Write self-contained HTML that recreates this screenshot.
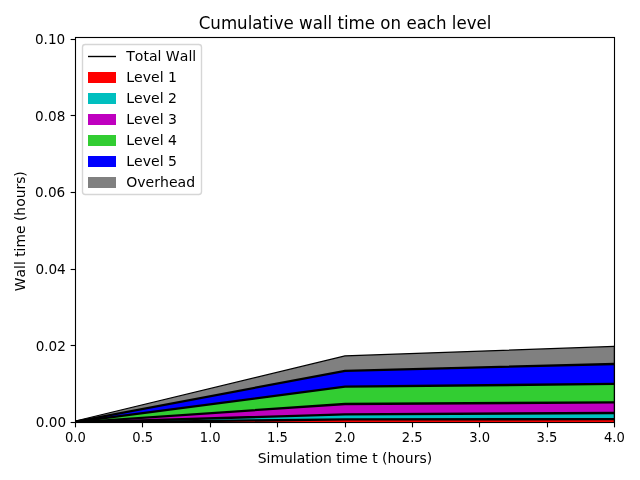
<!DOCTYPE html>
<html lang="en"><head><meta charset="utf-8"><title>Cumulative wall time on each level</title>
<style>html,body{margin:0;padding:0;background:#fff}body{width:640px;height:480px;overflow:hidden}svg{display:block}text{font-family:'DejaVu Sans','Liberation Sans',sans-serif;fill:#000;font-kerning:none}</style></head><body>
<svg width="640" height="480" viewBox="0 0 640 480">
<rect width="640" height="480" fill="#fff"/>
<clipPath id="ax"><rect x="75" y="37" width="540" height="386.05"/></clipPath>
<g clip-path="url(#ax)">
<g stroke="none">
<polygon fill="#ff0000" points="75.50,422.43 345.00,419.20 614.50,418.97 614.50,422.50 345.00,422.50 75.50,422.50"/>
<polygon fill="#00bfbf" points="75.50,422.31 345.00,414.10 614.50,412.80 614.50,418.97 345.00,419.20 75.50,422.43"/>
<polygon fill="#bf00bf" points="75.50,422.08 345.00,403.79 614.50,402.14 614.50,412.80 345.00,414.10 75.50,422.31"/>
<polygon fill="#32cd32" points="75.50,421.69 345.00,386.49 614.50,383.69 614.50,402.14 345.00,403.79 75.50,422.08"/>
<polygon fill="#0000ff" points="75.50,421.33 345.00,370.62 614.50,363.79 614.50,383.69 345.00,386.49 75.50,421.69"/>
<polygon fill="#808080" points="75.50,421.00 345.00,355.89 614.50,346.38 614.50,363.79 345.00,370.62 75.50,421.33"/>
</g>
<g stroke="#000" fill="none" stroke-linejoin="miter">
<polyline stroke-width="2.30" points="75.50,422.63 345.00,419.40 614.50,419.17"/>
<polyline stroke-width="2.30" points="75.50,422.51 345.00,414.30 614.50,413.00"/>
<polyline stroke-width="2.30" points="75.50,422.28 345.00,403.99 614.50,402.34"/>
<polyline stroke-width="2.30" points="75.50,421.89 345.00,386.69 614.50,383.89"/>
<polyline stroke-width="2.30" points="75.50,421.53 345.00,370.82 614.50,363.99"/>
<polyline stroke-width="1.25" points="75.50,421.00 345.00,355.89 614.50,346.38"/>
<line stroke-width="0.9" x1="614.25" y1="345.78" x2="614.25" y2="422.50"/>
<line stroke-width="1.11" x1="75.50" y1="422.50" x2="614.50" y2="422.50"/>
<rect x="74.9" y="420.0" width="1.4" height="3" fill="#000" stroke="none"/>
</g>
</g>
<g stroke="#000" stroke-width="1.11" fill="none">
<line x1="75.50" y1="422.50" x2="75.50" y2="427.36"/>
<line x1="142.50" y1="422.50" x2="142.50" y2="427.36"/>
<line x1="210.50" y1="422.50" x2="210.50" y2="427.36"/>
<line x1="277.50" y1="422.50" x2="277.50" y2="427.36"/>
<line x1="345.50" y1="422.50" x2="345.50" y2="427.36"/>
<line x1="412.50" y1="422.50" x2="412.50" y2="427.36"/>
<line x1="479.50" y1="422.50" x2="479.50" y2="427.36"/>
<line x1="547.50" y1="422.50" x2="547.50" y2="427.36"/>
<line x1="614.50" y1="422.50" x2="614.50" y2="427.36"/>
<line x1="70.64" y1="422.50" x2="75.50" y2="422.50"/>
<line x1="70.64" y1="345.50" x2="75.50" y2="345.50"/>
<line x1="70.64" y1="269.50" x2="75.50" y2="269.50"/>
<line x1="70.64" y1="192.50" x2="75.50" y2="192.50"/>
<line x1="70.64" y1="115.50" x2="75.50" y2="115.50"/>
<line x1="70.64" y1="39.50" x2="75.50" y2="39.50"/>
<rect x="75.50" y="37.50" width="539.00" height="385.00"/>
</g>
<g font-size="13.89px" text-anchor="middle">
<text transform="translate(75.40 442.00) scale(0.9450 1.0000)">0.0</text>
<text transform="translate(142.78 442.00) scale(0.9450 1.0000)">0.5</text>
<text transform="translate(210.15 442.00) scale(0.9450 1.0000)">1.0</text>
<text transform="translate(277.52 442.00) scale(0.9450 1.0000)">1.5</text>
<text transform="translate(344.90 442.00) scale(0.9450 1.0000)">2.0</text>
<text transform="translate(412.27 442.00) scale(0.9450 1.0000)">2.5</text>
<text transform="translate(479.65 442.00) scale(0.9450 1.0000)">3.0</text>
<text transform="translate(547.02 442.00) scale(0.9450 1.0000)">3.5</text>
<text transform="translate(614.40 442.00) scale(0.9450 1.0000)">4.0</text>
<text transform="translate(344.90 463.00) scale(1.0030 1.0000)">Simulation time t (hours)</text>
<text transform="translate(25.00 231.20) rotate(-90)">Wall time (hours)</text>
</g>
<g font-size="13.89px" text-anchor="end">
<text transform="translate(66.05 427.00) scale(0.9800 1.0000)">0.00</text>
<text transform="translate(65.94 350.80) scale(0.9800 1.0000)">0.02</text>
<text transform="translate(65.76 273.80) scale(0.9800 1.0000)">0.04</text>
<text transform="translate(65.24 197.00) scale(0.9800 1.0000)">0.06</text>
<text transform="translate(65.37 120.80) scale(0.9800 1.0000)">0.08</text>
<text transform="translate(65.25 43.90) scale(0.9800 1.0000)">0.10</text>
</g>
<g font-size="16.67px"><text transform="translate(345.10 28.80) scale(1.0000 1.0900)" text-anchor="middle">Cumulative wall time on each level</text></g>
<rect x="82.5" y="44.5" width="119" height="150" rx="2.8" ry="2.8" fill="#fff" fill-opacity="0.8" stroke="#ccc" stroke-opacity="0.8" stroke-width="1.39"/>
<line x1="88" y1="56.5" x2="116" y2="56.5" stroke="#000" stroke-width="1.39"/>
<rect x="88" y="72.0" width="28" height="11" fill="#ff0000"/>
<rect x="88" y="93.0" width="28" height="11" fill="#00bfbf"/>
<rect x="88" y="114.0" width="28" height="11" fill="#bf00bf"/>
<rect x="88" y="135.0" width="28" height="11" fill="#32cd32"/>
<rect x="88" y="156.0" width="28" height="11" fill="#0000ff"/>
<rect x="88" y="177.0" width="28" height="11" fill="#808080"/>
<g font-size="13.89px">
<text transform="translate(126.20 61.00) scale(1.0120 1.0000)">Total Wall</text>
<text transform="translate(126.20 82.00) scale(1.0120 1.0000)">Level 1</text>
<text transform="translate(126.20 103.00) scale(1.0120 1.0000)">Level 2</text>
<text transform="translate(126.20 124.00) scale(1.0120 1.0000)">Level 3</text>
<text transform="translate(126.20 145.00) scale(1.0120 1.0000)">Level 4</text>
<text transform="translate(126.20 166.00) scale(1.0120 1.0000)">Level 5</text>
<text transform="translate(126.20 187.00) scale(1.0120 1.0000)">Overhead</text>
</g>
</svg></body></html>
